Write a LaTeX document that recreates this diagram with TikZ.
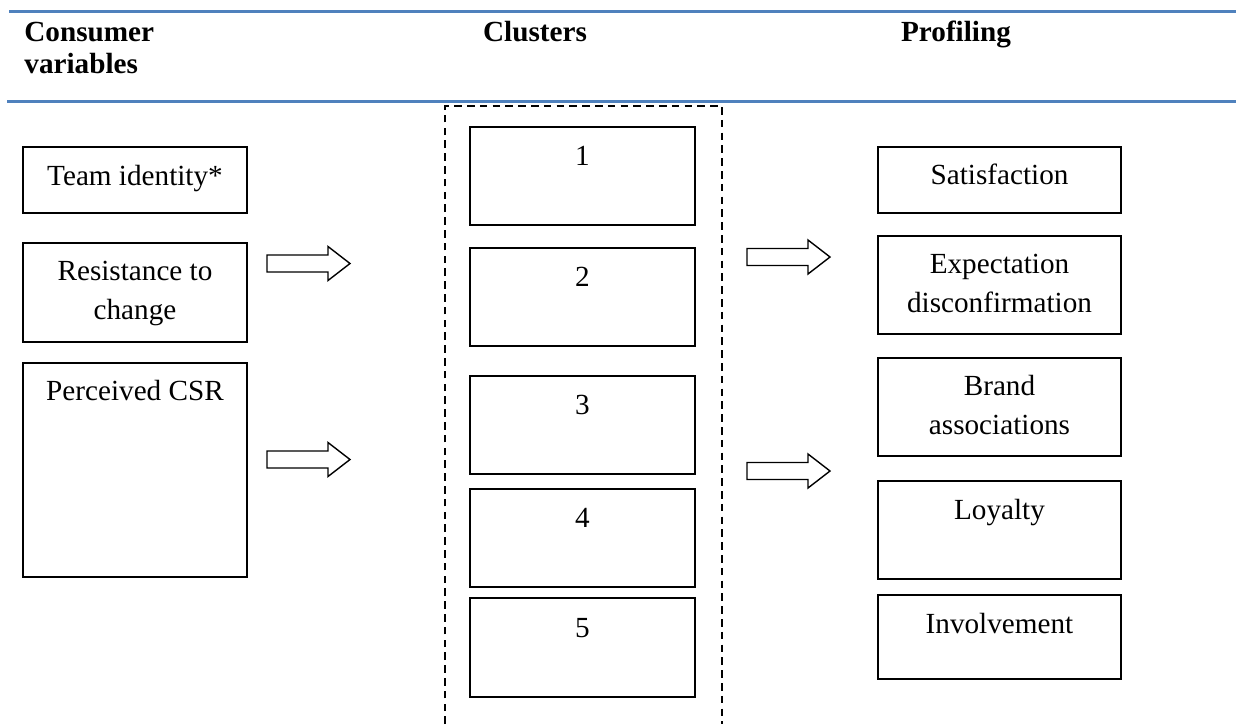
\documentclass[tikz,border=0pt]{standalone}
\usepackage{fontspec}
\setmainfont{Liberation Serif}
\usetikzlibrary{fit}
\definecolor{hdrblue}{RGB}{79,129,189}
\newcommand{\twolines}[2]{\vtop{\baselineskip=19.4pt\halign{\hfil##\hfil\cr #1\cr #2\cr}}}
\newcommand{\hdrlines}[2]{\vtop{\baselineskip=16pt\hbox{#1}\hbox{#2}}}
\begin{document}
\begin{tikzpicture}[x=0.5pt,y=-0.5pt,
  box/.style={draw=black,line width=1pt,inner sep=0pt,fill=none},
  txt/.style={inner sep=0pt,anchor=base,font=\fontsize{14.6}{19.4}\selectfont},
  hdr/.style={inner sep=0pt,font=\fontsize{14.6}{16}\selectfont\bfseries},
  rule/.style={draw=hdrblue,line width=1.5pt},
  dashbox/.style={draw=black,line width=0.9pt,dash pattern=on 3.8pt off 2.6pt},
  arrowline/.style={draw=black,line width=0.7pt,fill=white,line join=miter},
  blockarrow/.pic={\draw[arrowline] (0,-8.5) -- (61,-8.5) -- (61,-17) -- (83,0) -- (61,17) -- (61,8.5) -- (0,8.5) -- cycle;}
]
\useasboundingbox (0,0) rectangle (1236,724);

% header rules
\coordinate (rt1) at (9,11);  \coordinate (rt2) at (1236,11);
\coordinate (rb1) at (7,101); \coordinate (rb2) at (1236,101);
\draw[rule] (rt1) -- (rt2);
\draw[rule] (rb1) -- (rb2);

% headers
\node[hdr,anchor=base west] (hcons) at (24,41) {\hdrlines{Consumer}{variables}};
\node[hdr,anchor=base] (hclus) at (535,41) {Clusters};
\node[hdr,anchor=base] (hprof) at (956,41) {Profiling};

% dashed cluster frame
\coordinate (d1) at (445,724); \coordinate (d2) at (445,106);
\coordinate (d3) at (722,106); \coordinate (d4) at (722,724);
\draw[dashbox] (d1) -- (d2) -- (d3) -- (d4);

% left boxes
\node[box,fit={(23,147) (247,213)}] (team) {};
\node[txt] (teamt) at (135,185) {Team identity*};
\node[box,fit={(23,243) (247,342)}] (resist) {};
\node[txt] (resistt) at (135,280.5) {\twolines{Resistance to}{change}};
\node[box,fit={(23,363) (247,577)}] (csr) {};
\node[txt] (csrt) at (135,400.5) {Perceived CSR};

% cluster boxes
\node[box,fit={(470,127) (695,225)}] (c1) {};
\node[txt] (c1t) at (582.5,165) {1};
\node[box,fit={(470,248) (695,346)}] (c2) {};
\node[txt] (c2t) at (582.5,286) {2};
\node[box,fit={(470,376) (695,474)}] (c3) {};
\node[txt] (c3t) at (582.5,414.5) {3};
\node[box,fit={(470,489) (695,587)}] (c4) {};
\node[txt] (c4t) at (582.5,527) {4};
\node[box,fit={(470,598) (695,697)}] (c5) {};
\node[txt] (c5t) at (582.5,637) {5};

% right boxes
\node[box,fit={(878,147) (1121,213)}] (sat) {};
\node[txt] (satt) at (999.5,184) {Satisfaction};
\node[box,fit={(878,236) (1121,334)}] (exp) {};
\node[txt] (expt) at (999.5,273.5) {\twolines{Expectation}{disconfirmation}};
\node[box,fit={(878,358) (1121,456)}] (brand) {};
\node[txt] (brandt) at (999.5,395.5) {\twolines{Brand}{associations}};
\node[box,fit={(878,481) (1121,579)}] (loy) {};
\node[txt] (loyt) at (999.5,519) {Loyalty};
\node[box,fit={(878,595) (1121,679)}] (inv) {};
\node[txt] (invt) at (999.5,633) {Involvement};

% block arrows
\pic (a1) at (267,263.5) {blockarrow};
\pic (a2) at (267,459.5) {blockarrow};
\pic (a3) at (747,257) {blockarrow};
\pic (a4) at (747,471) {blockarrow};
\end{tikzpicture}
\end{document}
